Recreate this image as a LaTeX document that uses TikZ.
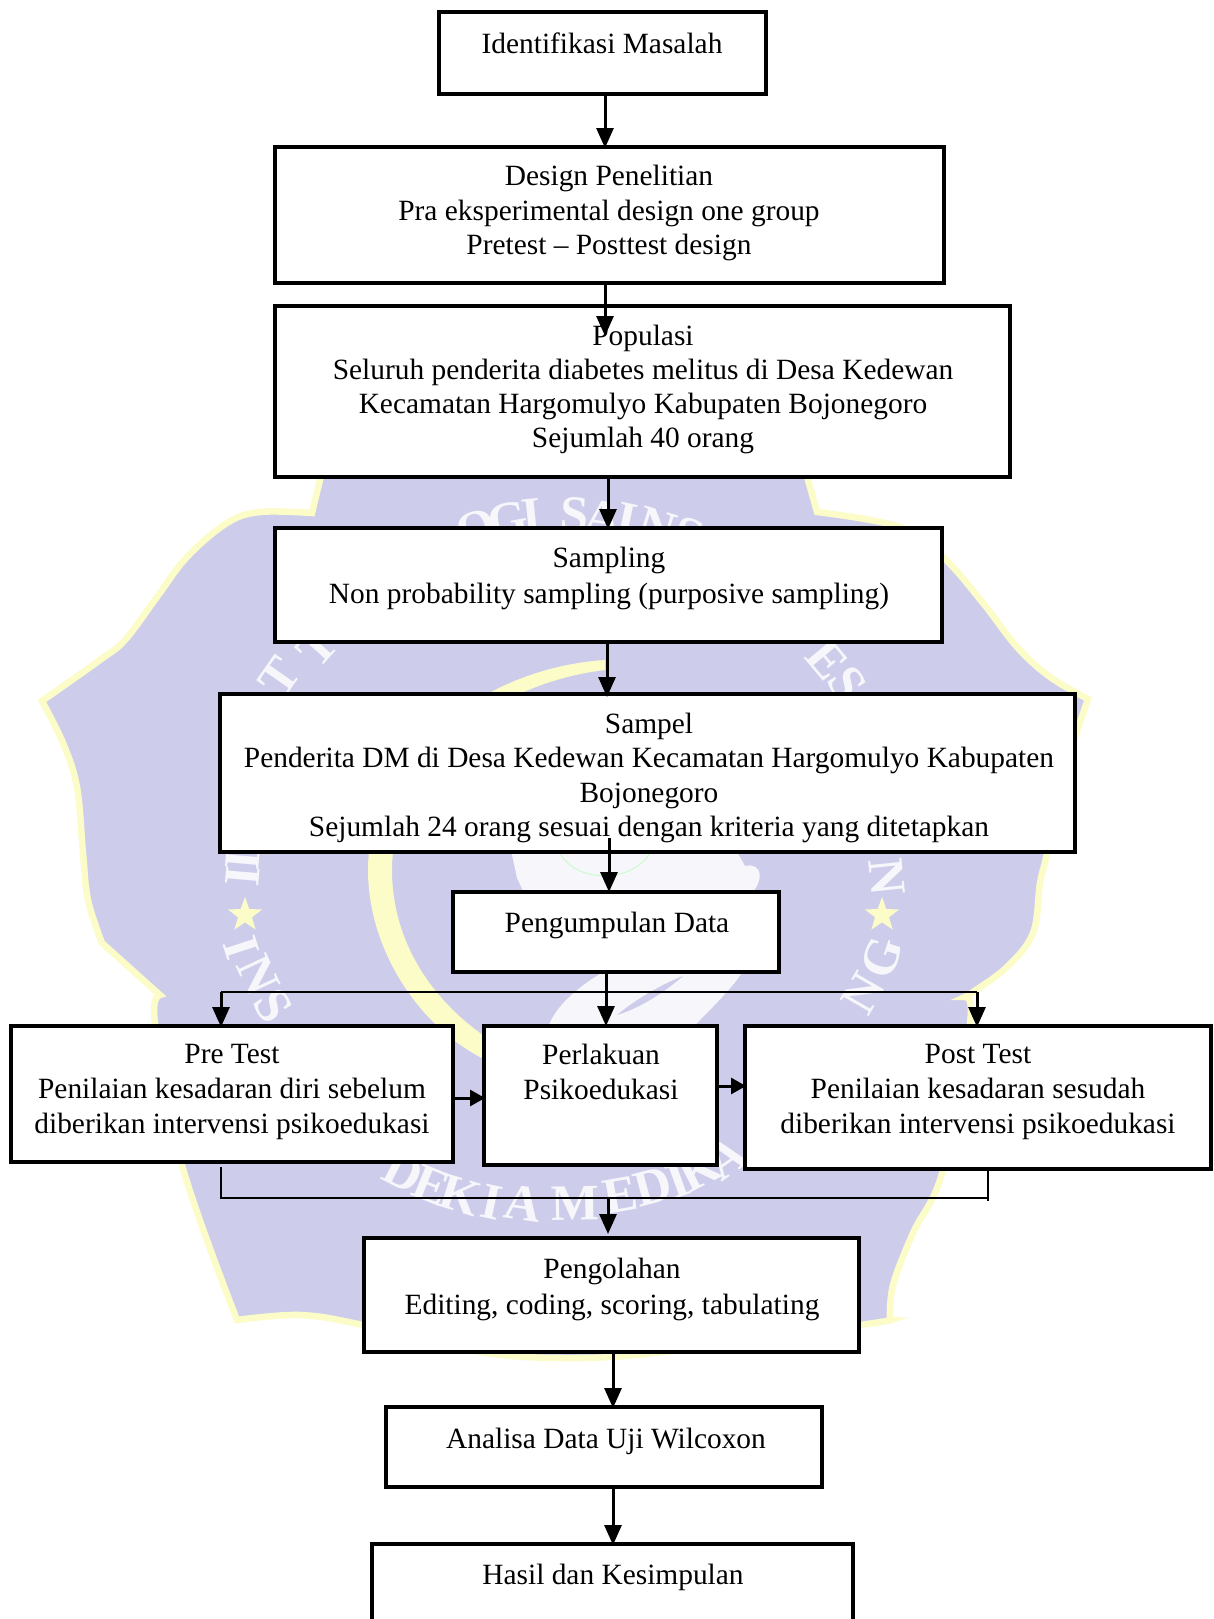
\documentclass[tikz,border=0pt]{standalone}
\usepackage{fontspec}
\setmainfont{Liberation Serif}
\usetikzlibrary{arrows.meta,shapes.geometric,calc}
\definecolor{logoblue}{RGB}{205,205,235}
\definecolor{logoyellow}{RGB}{252,252,200}
\definecolor{logowhite}{RGB}{246,246,251}
\tikzset{
  flowbox/.style={draw=black,fill=white,line width=3.1pt,inner sep=0pt,outer sep=0pt},
  boxtext/.style={inner sep=0pt,align=center,text=black},
  arr/.style={draw=black,line width=3pt,-{Triangle[length=20pt,width=17pt]},shorten >=-1pt},
  arrh/.style={draw=black,line width=3pt,-{Triangle[length=15pt,width=16pt]}},
  thinline/.style={draw=black,line width=1.2pt},
  wm/.style={text=logowhite,font=\fontsize{51}{51}\selectfont\bfseries,inner sep=0pt},
  wmstar/.style={star,star points=5,star point ratio=2.45,fill=logoyellow,draw=none,minimum size=36pt,inner sep=0pt}
}
% name, x0, y0, x1, y1
\newcommand{\flownode}[5]{\node[flowbox,minimum width={(#4-#2)*1pt},minimum height={(#5-#3)*1pt}] (#1) at ({(#2+#4)/2},{(#3+#5)/2}) {};}
% name, x, y, leading, text
\newcommand{\flowtext}[5]{\node[boxtext,font=\fontsize{29.4}{#4}\selectfont] (#1) at (#2,#3) {#5};}
\begin{document}
\begin{tikzpicture}[x=1pt,y=-1pt]
\clip (0,0) rectangle (1213,1619);
\fill[white] (0,0) rectangle (1213,1619);
% logo
\path[fill=logoblue,draw=logoyellow,line width=6.5pt,line join=miter]
  plot[smooth,tension=.6] coordinates {(312,513) (320,480) (330,440)}
  -- (805,440)
  -- plot[smooth,tension=.6] coordinates {(808,480) (817,512)}
  -- plot[smooth,tension=.6] coordinates {(817,512) (900,527) (943,557) (983,603) (1017,647) (1050,677) (1088,699)}
  -- plot[smooth,tension=.6] coordinates {(1088,699) (1075,737) (1058,790) (1047,853) (1040,883) (1033,933) (1007,967) (973,992) (965,997)}
  -- plot[smooth,tension=.6] coordinates {(965,997) (970,1023) (943,1170) (913,1233) (893,1285) (890,1320)}
  -- plot[smooth,tension=.6] coordinates {(890,1320) (860,1325) (663,1352) (570,1358) (480,1352) (363,1325) (300,1315) (237,1320)}
  -- plot[smooth,tension=.6] coordinates {(237,1320) (182,1165) (155,1023) (160,995)}
  -- (102,943)
  -- plot[smooth,tension=.6] coordinates {(102,943) (88,900) (83,853) (77,787) (63,743) (42,701)}
  -- plot[smooth,tension=.6] coordinates {(42,701) (100,660) (125,640) (157,597) (187,557) (227,523) (260,512) (312,513)}
  -- cycle;
% crescent
\fill[logoyellow] (605,660) .. controls (480,668) and (368,760) .. (368,870)
   .. controls (368,950) and (420,1030) .. (490,1062)
   -- (490,1040) .. controls (430,1000) and (392,940) .. (392,870)
   .. controls (392,775) and (480,685) .. (605,670) -- cycle;
% hand
\fill[logowhite] (510,845) -- (517,878) -- (525,895) -- (750,895) .. controls (765,880) and (762,862) .. (745,866) -- (733,845) -- cycle;
\fill[logowhite] (547,1030) .. controls (555,1005) and (580,985) .. (610,968) -- (745,968) .. controls (735,985) and (715,1005) .. (690,1030) -- cycle;
\fill[logoblue] (617,1015) .. controls (635,1000) and (660,985) .. (683,976) .. controls (665,992) and (640,1008) .. (617,1015) -- cycle;
\draw[green!25!white,line width=.8pt] (560,853) .. controls (575,882) and (630,885) .. (650,853);
% watermark letters
\node[wm,rotate=25] (w1) at (441,545) {L};
\node[wm,rotate=17] (w2) at (477,529) {O};
\node[wm,rotate=11] (w3) at (508,520) {G};
\node[wm,rotate=6] (w4) at (532,516) {I};
\node[wm,rotate=-3] (w5) at (575,515) {S};
\node[wm,rotate=-8] (w6) at (603,518) {A};
\node[wm,rotate=-12] (w7) at (627,520) {I};
\node[wm,rotate=-17] (w8) at (657,527) {N};
\node[wm,rotate=-22] (w9) at (688,535) {S};
\node[wm,rotate=48] (w10) at (317,647) {T};
\node[wm,rotate=55] (w11) at (280,677) {T};
\node[wm,rotate=-50] (w12) at (827,660) {E};
\node[wm,rotate=-57] (w13) at (847,683) {S};
\node[wm,rotate=85] (w14) at (243,860) {I};
\node[wm,rotate=85] (w15) at (243,876) {I};
\node[wmstar] (s1) at (245,915) {};
\node[wm,rotate=-72] (w16) at (241,948) {I};
\node[wm,rotate=-65] (w17) at (258,975) {N};
\node[wm,rotate=-58] (w18) at (273,1006) {S};
\node[wm,rotate=-27] (w19) at (403,1172) {D};
\node[wm,rotate=-22] (w20) at (432,1185) {E};
\node[wm,rotate=-17] (w21) at (460,1195) {K};
\node[wm,rotate=-12] (w22) at (492,1202) {I};
\node[wm,rotate=-8] (w23) at (523,1203) {A};
\node[wm,rotate=1] (w24) at (575,1203) {M};
\node[wm,rotate=10] (w25) at (620,1195) {E};
\node[wm,rotate=15] (w26) at (653,1187) {D};
\node[wm,rotate=20] (w27) at (678,1180) {I};
\node[wm,rotate=27] (w28) at (700,1170) {K};
\node[wm,rotate=35] (w29) at (727,1158) {A};
\node[wm,rotate=-84] (w30) at (887,877) {N};
\node[wmstar] (s2) at (882,915) {};
\node[wm,rotate=72] (w31) at (882,957) {G};
\node[wm,rotate=60] (w32) at (863,993) {N};
% boxes
\flownode{b1}{439}{12}{766}{94}
\flownode{b2}{275}{147}{944}{283}
\flownode{b3}{275}{306}{1010}{477}
\flownode{b4}{275}{528}{942}{642}
\flownode{b5}{220}{694}{1075}{852}
\flownode{b6}{453}{892}{779}{972}
\flownode{pre}{11}{1026}{453}{1162}
\flownode{per}{484}{1026}{717}{1165}
\flownode{post}{745}{1026}{1211}{1169}
\flownode{b7}{364}{1238}{859}{1352}
\flownode{b8}{386}{1407}{822}{1487}
\flownode{b9}{372}{1544}{853}{1630}
% texts
\flowtext{t1}{602}{43}{34}{Identifikasi Masalah}
\flowtext{t2}{609}{213}{34.6}{Design Penelitian\\Pra eksperimental design one group\\Pretest – Posttest design}
\flowtext{t3}{643}{389}{34}{Populasi\\Seluruh penderita diabetes melitus di Desa Kedewan\\Kecamatan Hargomulyo Kabupaten Bojonegoro\\Sejumlah 40 orang}
\flowtext{t4}{609}{578}{36}{Sampling\\Non probability sampling (purposive sampling)}
\flowtext{t5}{649}{778}{34.4}{Sampel\\Penderita DM di Desa Kedewan Kecamatan Hargomulyo Kabupaten\\Bojonegoro\\Sejumlah 24 orang sesuai dengan kriteria yang ditetapkan}
\flowtext{t6}{617}{925}{34}{Pengumpulan Data}
\flowtext{t7}{232}{1092}{34.6}{Pre Test\\Penilaian kesadaran diri sebelum\\diberikan intervensi psikoedukasi}
\flowtext{t8}{601}{1072}{35}{Perlakuan\\Psikoedukasi}
\flowtext{t9}{978}{1092}{34.6}{Post Test\\Penilaian kesadaran sesudah\\diberikan intervensi psikoedukasi}
\flowtext{t10}{612}{1289}{36}{Pengolahan\\Editing, coding, scoring, tabulating}
\flowtext{t11}{606}{1441}{34}{Analisa Data Uji Wilcoxon}
\flowtext{t12}{613}{1577}{34}{Hasil dan Kesimpulan}
% connector end points
\coordinate (e12) at (605,147);
\coordinate (e23) at (605,335);
\coordinate (e34) at (608,528);
\coordinate (e45s) at (607,644);
\coordinate (e45) at (607,696);
\coordinate (e56s) at (609,838);
\coordinate (e56) at (609,891);
\coordinate (e6p) at (606,1025);
\coordinate (splitL) at (221,992);
\coordinate (splitR) at (977,992);
\coordinate (e1) at (485,1098);
\coordinate (e2) at (746,1086);
\coordinate (joinLa) at (221,1167);
\coordinate (joinL) at (221,1198);
\coordinate (joinR) at (988,1198);
\coordinate (joinRa) at (988,1169);
\coordinate (joinRb) at (988,1201);
\coordinate (joinM) at (608,1198);
\coordinate (e7) at (608,1233);
\coordinate (e78) at (613,1407);
\coordinate (e89) at (613,1544);
% connectors
\draw[arr] (b1.south -| e12) -- (e12);
\draw[arr] (b2.south -| e23) -- (e23);
\draw[arr] (b3.south -| e34) -- (e34);
\draw[arr] (e45s) -- (e45);
\draw[arr] (e56s) -- (e56);
\draw[arr] (b6.south -| e6p) -- (e6p);
\draw[thinline] (splitL) -- (splitR);
\draw[arr] (splitL) -- (splitL |- pre.north);
\draw[arr] (splitR) -- (splitR |- post.north);
\draw[arrh] (pre.east |- e1) -- (e1);
\draw[arrh] (per.east |- e2) -- (e2);
\draw[thinline] (joinLa) -- (joinL) -- (joinR);
\draw[thinline] (joinRa) -- (joinRb);
\draw[arr] (joinM) -- (e7);
\draw[arr] (b7.south -| e78) -- (e78);
\draw[arr] (b8.south -| e89) -- (e89);
\end{tikzpicture}
\end{document}
